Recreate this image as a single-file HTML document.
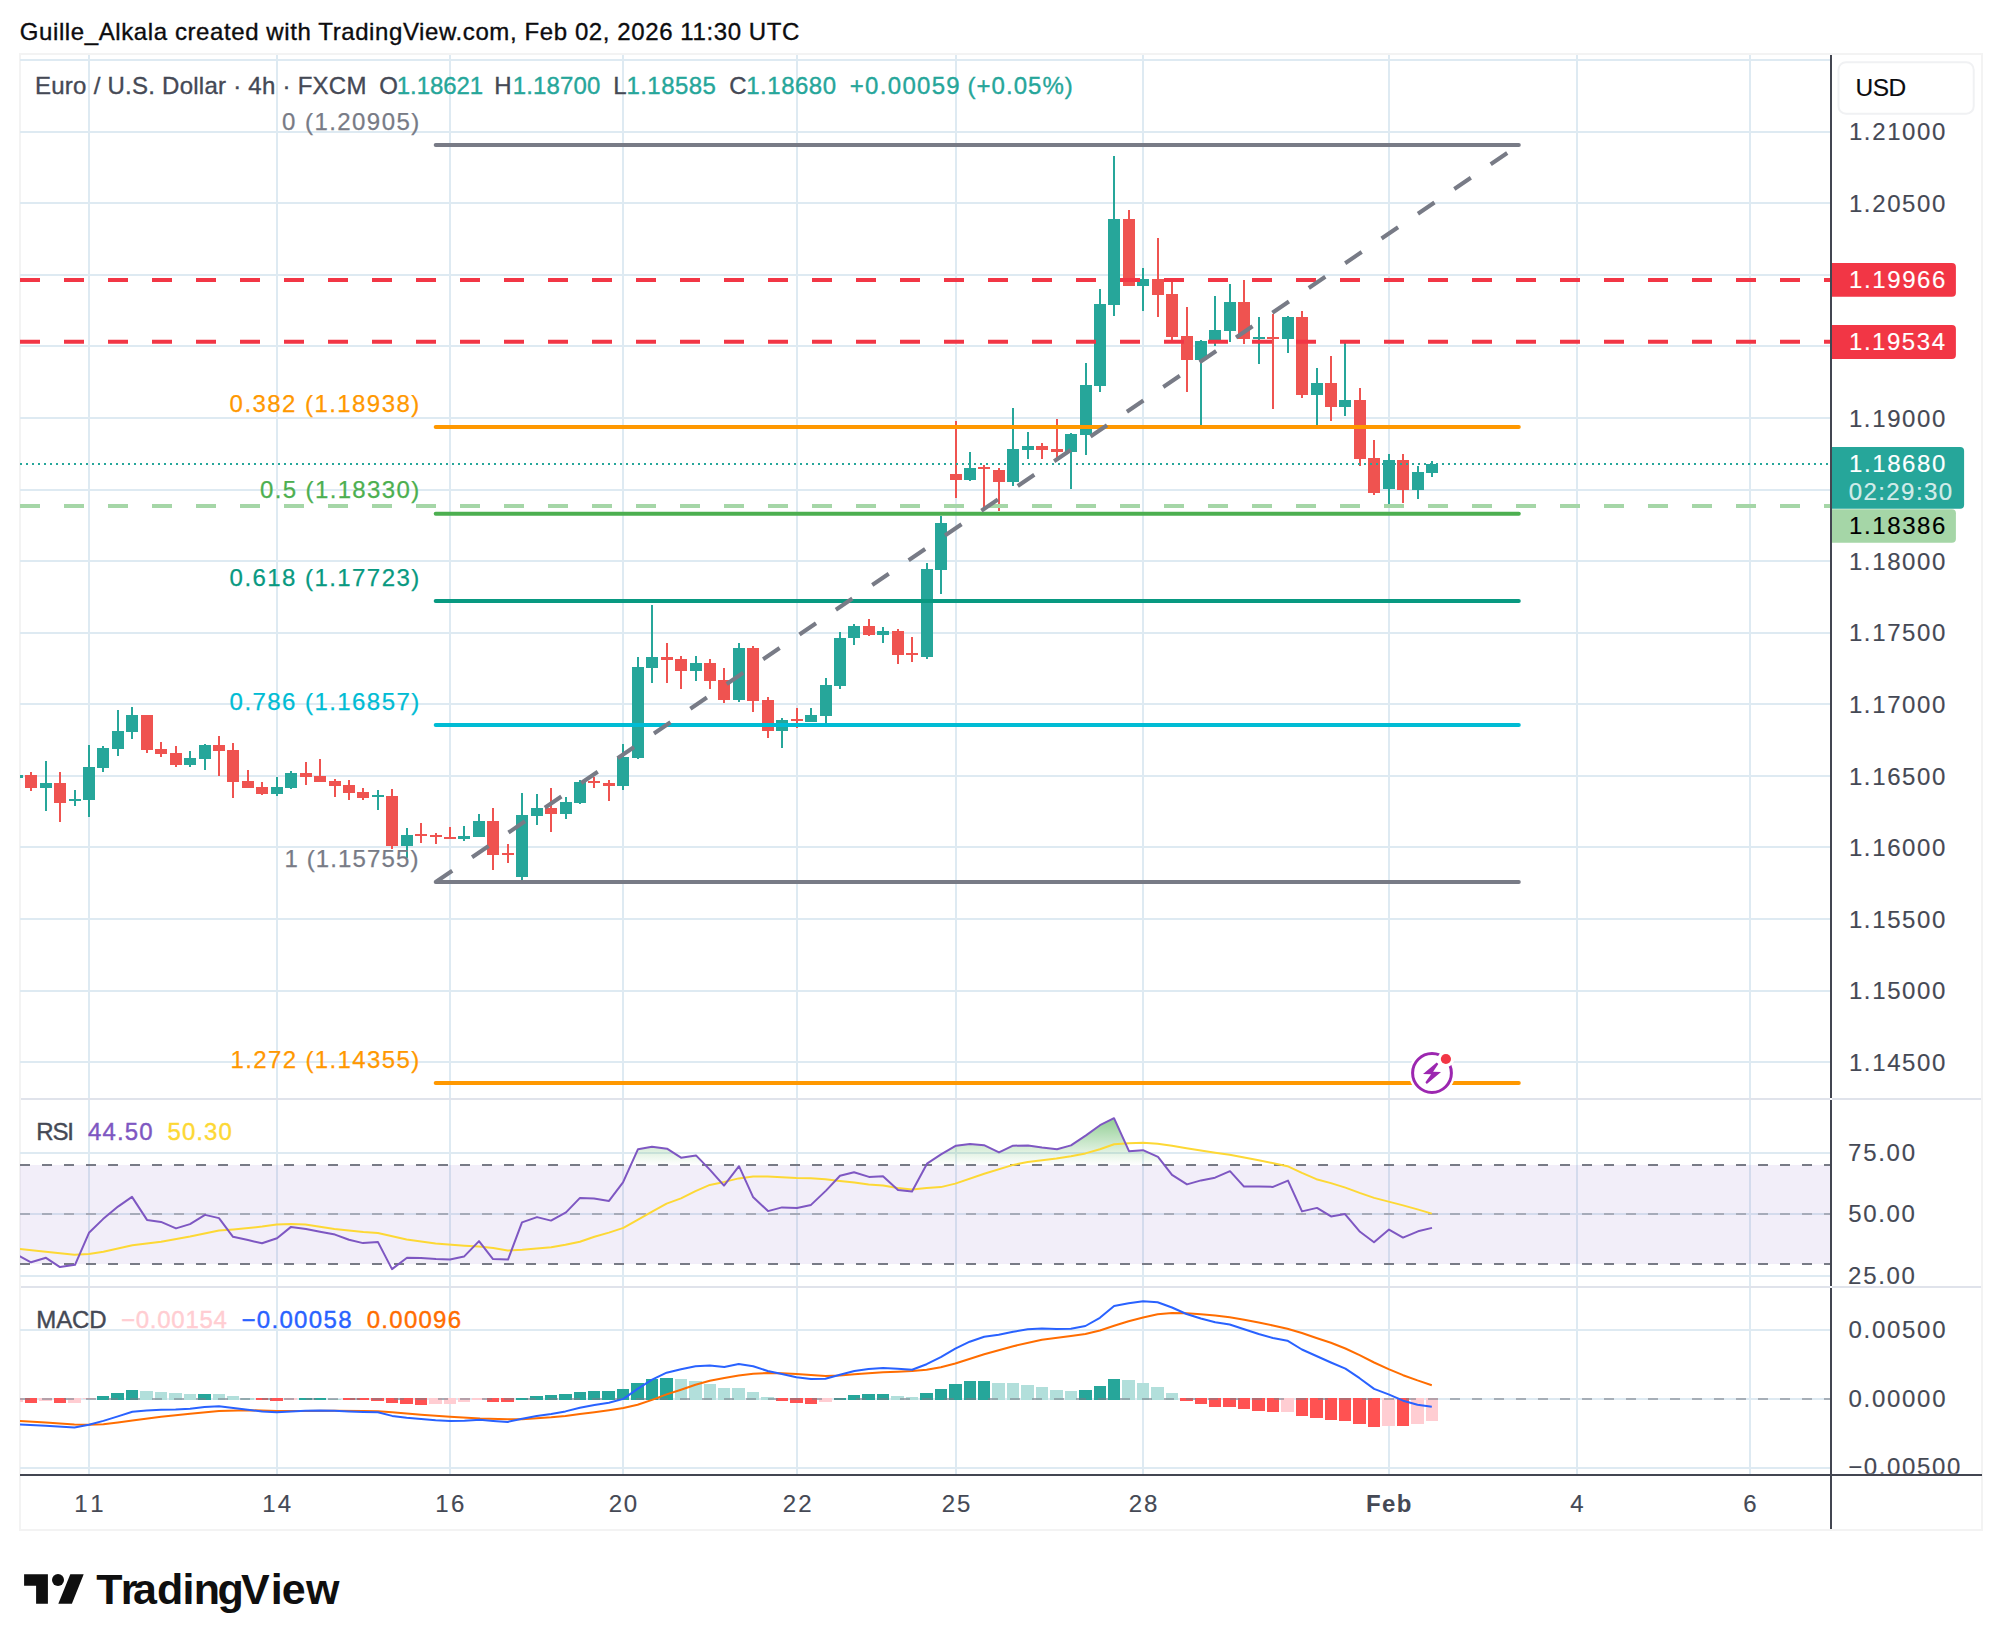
<!DOCTYPE html><html><head><meta charset="utf-8"><style>html,body{margin:0;padding:0;background:#fff}svg{display:block}</style></head><body>
<svg width="2002" height="1650" viewBox="0 0 2002 1650" font-family='"Liberation Sans", sans-serif'>
<defs><clipPath id="cp"><rect x="20" y="54" width="1810" height="1421"/></clipPath><clipPath id="cpm"><rect x="1832" y="1290" width="150" height="183.8"/></clipPath><linearGradient id="ob" gradientUnits="userSpaceOnUse" x1="0" y1="1100" x2="0" y2="1165"><stop offset="0" stop-color="#4caf50" stop-opacity="0.85"/><stop offset="1" stop-color="#4caf50" stop-opacity="0"/></linearGradient></defs>
<rect x="0.0" y="0.0" width="2002.0" height="1650.0" fill="#ffffff"/>
<text x="19.8" y="39.7" font-size="24" fill="#0c0c0e" stroke="#0c0c0e" stroke-width="0.35" textLength="779.6" lengthAdjust="spacing">Guille_Alkala created with TradingView.com, Feb 02, 2026 11:30 UTC</text>
<rect x="20" y="54" width="1962" height="1476" fill="none" stroke="#f3f3f3" stroke-width="2"/>
<g stroke="#deeaf2" stroke-width="2">
<line x1="89" y1="55" x2="89" y2="1474"/>
<line x1="277" y1="55" x2="277" y2="1474"/>
<line x1="450" y1="55" x2="450" y2="1474"/>
<line x1="623" y1="55" x2="623" y2="1474"/>
<line x1="797" y1="55" x2="797" y2="1474"/>
<line x1="956" y1="55" x2="956" y2="1474"/>
<line x1="1143" y1="55" x2="1143" y2="1474"/>
<line x1="1389" y1="55" x2="1389" y2="1474"/>
<line x1="1577" y1="55" x2="1577" y2="1474"/>
<line x1="1750" y1="55" x2="1750" y2="1474"/>
<line x1="20" y1="60" x2="1830" y2="60"/>
<line x1="20" y1="132" x2="1830" y2="132"/>
<line x1="20" y1="203" x2="1830" y2="203"/>
<line x1="20" y1="275" x2="1830" y2="275"/>
<line x1="20" y1="346" x2="1830" y2="346"/>
<line x1="20" y1="418" x2="1830" y2="418"/>
<line x1="20" y1="490" x2="1830" y2="490"/>
<line x1="20" y1="561" x2="1830" y2="561"/>
<line x1="20" y1="633" x2="1830" y2="633"/>
<line x1="20" y1="704" x2="1830" y2="704"/>
<line x1="20" y1="776" x2="1830" y2="776"/>
<line x1="20" y1="847" x2="1830" y2="847"/>
<line x1="20" y1="919" x2="1830" y2="919"/>
<line x1="20" y1="991" x2="1830" y2="991"/>
<line x1="20" y1="1062" x2="1830" y2="1062"/>
<line x1="20" y1="1153" x2="1830" y2="1153"/>
<line x1="20" y1="1214" x2="1830" y2="1214"/>
<line x1="20" y1="1276" x2="1830" y2="1276"/>
<line x1="20" y1="1330" x2="1830" y2="1330"/>
<line x1="20" y1="1399" x2="1830" y2="1399"/>
<line x1="20" y1="1468" x2="1830" y2="1468"/>
</g>
<g clip-path="url(#cp)" shape-rendering="crispEdges">
<rect x="16" y="775" width="2" height="3" fill="#26a69a"/><rect x="11" y="775" width="12" height="3" fill="#26a69a"/>
<rect x="30" y="772" width="2" height="19" fill="#ef5350"/><rect x="25" y="775" width="12" height="13" fill="#ef5350"/>
<rect x="45" y="761" width="2" height="50" fill="#26a69a"/><rect x="40" y="783" width="12" height="5" fill="#26a69a"/>
<rect x="59" y="772" width="2" height="50" fill="#ef5350"/><rect x="54" y="783" width="12" height="20" fill="#ef5350"/>
<rect x="74" y="790" width="2" height="16" fill="#26a69a"/><rect x="69" y="799" width="12" height="2" fill="#26a69a"/>
<rect x="88" y="745" width="2" height="72" fill="#26a69a"/><rect x="83" y="767" width="12" height="33" fill="#26a69a"/>
<rect x="102" y="746" width="2" height="26" fill="#26a69a"/><rect x="97" y="748" width="12" height="20" fill="#26a69a"/>
<rect x="117" y="710" width="2" height="46" fill="#26a69a"/><rect x="112" y="731" width="12" height="18" fill="#26a69a"/>
<rect x="131" y="707" width="2" height="32" fill="#26a69a"/><rect x="126" y="715" width="12" height="17" fill="#26a69a"/>
<rect x="146" y="715" width="2" height="38" fill="#ef5350"/><rect x="141" y="715" width="12" height="35" fill="#ef5350"/>
<rect x="160" y="742" width="2" height="15" fill="#ef5350"/><rect x="155" y="749" width="12" height="5" fill="#ef5350"/>
<rect x="175" y="746" width="2" height="21" fill="#ef5350"/><rect x="170" y="753" width="12" height="12" fill="#ef5350"/>
<rect x="189" y="751" width="2" height="16" fill="#26a69a"/><rect x="184" y="758" width="12" height="7" fill="#26a69a"/>
<rect x="204" y="744" width="2" height="26" fill="#26a69a"/><rect x="199" y="745" width="12" height="14" fill="#26a69a"/>
<rect x="218" y="736" width="2" height="40" fill="#ef5350"/><rect x="213" y="745" width="12" height="6" fill="#ef5350"/>
<rect x="232" y="743" width="2" height="55" fill="#ef5350"/><rect x="227" y="750" width="12" height="32" fill="#ef5350"/>
<rect x="247" y="770" width="2" height="18" fill="#ef5350"/><rect x="242" y="781" width="12" height="7" fill="#ef5350"/>
<rect x="261" y="782" width="2" height="13" fill="#ef5350"/><rect x="256" y="787" width="12" height="7" fill="#ef5350"/>
<rect x="276" y="777" width="2" height="19" fill="#26a69a"/><rect x="271" y="787" width="12" height="7" fill="#26a69a"/>
<rect x="290" y="771" width="2" height="18" fill="#26a69a"/><rect x="285" y="773" width="12" height="15" fill="#26a69a"/>
<rect x="305" y="762" width="2" height="23" fill="#ef5350"/><rect x="300" y="773" width="12" height="4" fill="#ef5350"/>
<rect x="319" y="759" width="2" height="23" fill="#ef5350"/><rect x="314" y="776" width="12" height="6" fill="#ef5350"/>
<rect x="334" y="779" width="2" height="18" fill="#ef5350"/><rect x="329" y="781" width="12" height="5" fill="#ef5350"/>
<rect x="348" y="780" width="2" height="20" fill="#ef5350"/><rect x="343" y="785" width="12" height="8" fill="#ef5350"/>
<rect x="362" y="788" width="2" height="12" fill="#ef5350"/><rect x="357" y="792" width="12" height="6" fill="#ef5350"/>
<rect x="377" y="790" width="2" height="20" fill="#26a69a"/><rect x="372" y="795" width="12" height="2" fill="#26a69a"/>
<rect x="391" y="789" width="2" height="60" fill="#ef5350"/><rect x="386" y="796" width="12" height="50" fill="#ef5350"/>
<rect x="406" y="828" width="2" height="30" fill="#26a69a"/><rect x="401" y="835" width="12" height="11" fill="#26a69a"/>
<rect x="420" y="823" width="2" height="20" fill="#ef5350"/><rect x="415" y="834" width="12" height="2" fill="#ef5350"/>
<rect x="435" y="833" width="2" height="11" fill="#ef5350"/><rect x="430" y="835" width="12" height="2" fill="#ef5350"/>
<rect x="449" y="827" width="2" height="12" fill="#ef5350"/><rect x="444" y="837" width="12" height="2" fill="#ef5350"/>
<rect x="463" y="826" width="2" height="15" fill="#26a69a"/><rect x="458" y="836" width="12" height="3" fill="#26a69a"/>
<rect x="478" y="814" width="2" height="23" fill="#26a69a"/><rect x="473" y="821" width="12" height="16" fill="#26a69a"/>
<rect x="492" y="808" width="2" height="62" fill="#ef5350"/><rect x="487" y="821" width="12" height="34" fill="#ef5350"/>
<rect x="507" y="844" width="2" height="19" fill="#ef5350"/><rect x="502" y="853" width="12" height="2" fill="#ef5350"/>
<rect x="521" y="793" width="2" height="87" fill="#26a69a"/><rect x="516" y="815" width="12" height="62" fill="#26a69a"/>
<rect x="536" y="794" width="2" height="31" fill="#26a69a"/><rect x="531" y="808" width="12" height="8" fill="#26a69a"/>
<rect x="550" y="788" width="2" height="44" fill="#ef5350"/><rect x="545" y="808" width="12" height="6" fill="#ef5350"/>
<rect x="565" y="797" width="2" height="22" fill="#26a69a"/><rect x="560" y="802" width="12" height="12" fill="#26a69a"/>
<rect x="579" y="780" width="2" height="24" fill="#26a69a"/><rect x="574" y="782" width="12" height="21" fill="#26a69a"/>
<rect x="593" y="777" width="2" height="11" fill="#ef5350"/><rect x="588" y="781" width="12" height="2" fill="#ef5350"/>
<rect x="608" y="780" width="2" height="21" fill="#ef5350"/><rect x="603" y="783" width="12" height="3" fill="#ef5350"/>
<rect x="622" y="744" width="2" height="46" fill="#26a69a"/><rect x="617" y="757" width="12" height="29" fill="#26a69a"/>
<rect x="637" y="657" width="2" height="102" fill="#26a69a"/><rect x="632" y="667" width="12" height="91" fill="#26a69a"/>
<rect x="651" y="605" width="2" height="78" fill="#26a69a"/><rect x="646" y="657" width="12" height="11" fill="#26a69a"/>
<rect x="666" y="643" width="2" height="40" fill="#ef5350"/><rect x="661" y="657" width="12" height="3" fill="#ef5350"/>
<rect x="680" y="656" width="2" height="33" fill="#ef5350"/><rect x="675" y="659" width="12" height="12" fill="#ef5350"/>
<rect x="695" y="656" width="2" height="25" fill="#26a69a"/><rect x="690" y="663" width="12" height="8" fill="#26a69a"/>
<rect x="709" y="659" width="2" height="30" fill="#ef5350"/><rect x="704" y="663" width="12" height="18" fill="#ef5350"/>
<rect x="723" y="668" width="2" height="35" fill="#ef5350"/><rect x="718" y="680" width="12" height="20" fill="#ef5350"/>
<rect x="738" y="643" width="2" height="59" fill="#26a69a"/><rect x="733" y="648" width="12" height="52" fill="#26a69a"/>
<rect x="752" y="646" width="2" height="66" fill="#ef5350"/><rect x="747" y="648" width="12" height="53" fill="#ef5350"/>
<rect x="767" y="697" width="2" height="41" fill="#ef5350"/><rect x="762" y="700" width="12" height="31" fill="#ef5350"/>
<rect x="781" y="718" width="2" height="30" fill="#26a69a"/><rect x="776" y="720" width="12" height="11" fill="#26a69a"/>
<rect x="796" y="708" width="2" height="20" fill="#ef5350"/><rect x="791" y="719" width="12" height="2" fill="#ef5350"/>
<rect x="810" y="708" width="2" height="14" fill="#26a69a"/><rect x="805" y="715" width="12" height="7" fill="#26a69a"/>
<rect x="825" y="678" width="2" height="45" fill="#26a69a"/><rect x="820" y="685" width="12" height="31" fill="#26a69a"/>
<rect x="839" y="632" width="2" height="57" fill="#26a69a"/><rect x="834" y="638" width="12" height="48" fill="#26a69a"/>
<rect x="853" y="624" width="2" height="21" fill="#26a69a"/><rect x="848" y="626" width="12" height="12" fill="#26a69a"/>
<rect x="868" y="619" width="2" height="17" fill="#ef5350"/><rect x="863" y="626" width="12" height="9" fill="#ef5350"/>
<rect x="882" y="627" width="2" height="16" fill="#26a69a"/><rect x="877" y="631" width="12" height="4" fill="#26a69a"/>
<rect x="897" y="629" width="2" height="35" fill="#ef5350"/><rect x="892" y="631" width="12" height="24" fill="#ef5350"/>
<rect x="911" y="637" width="2" height="25" fill="#ef5350"/><rect x="906" y="653" width="12" height="2" fill="#ef5350"/>
<rect x="926" y="563" width="2" height="96" fill="#26a69a"/><rect x="921" y="569" width="12" height="88" fill="#26a69a"/>
<rect x="940" y="516" width="2" height="78" fill="#26a69a"/><rect x="935" y="523" width="12" height="47" fill="#26a69a"/>
<rect x="955" y="421" width="2" height="77" fill="#ef5350"/><rect x="950" y="474" width="12" height="6" fill="#ef5350"/>
<rect x="969" y="452" width="2" height="29" fill="#26a69a"/><rect x="964" y="468" width="12" height="12" fill="#26a69a"/>
<rect x="983" y="465" width="2" height="45" fill="#ef5350"/><rect x="978" y="467" width="12" height="2" fill="#ef5350"/>
<rect x="998" y="468" width="2" height="43" fill="#ef5350"/><rect x="993" y="470" width="12" height="12" fill="#ef5350"/>
<rect x="1012" y="408" width="2" height="78" fill="#26a69a"/><rect x="1007" y="449" width="12" height="33" fill="#26a69a"/>
<rect x="1027" y="432" width="2" height="27" fill="#26a69a"/><rect x="1022" y="446" width="12" height="4" fill="#26a69a"/>
<rect x="1041" y="443" width="2" height="16" fill="#ef5350"/><rect x="1036" y="446" width="12" height="4" fill="#ef5350"/>
<rect x="1056" y="419" width="2" height="40" fill="#ef5350"/><rect x="1051" y="449" width="12" height="3" fill="#ef5350"/>
<rect x="1070" y="433" width="2" height="56" fill="#26a69a"/><rect x="1065" y="434" width="12" height="18" fill="#26a69a"/>
<rect x="1085" y="363" width="2" height="92" fill="#26a69a"/><rect x="1080" y="385" width="12" height="50" fill="#26a69a"/>
<rect x="1099" y="289" width="2" height="103" fill="#26a69a"/><rect x="1094" y="304" width="12" height="82" fill="#26a69a"/>
<rect x="1113" y="156" width="2" height="160" fill="#26a69a"/><rect x="1108" y="219" width="12" height="86" fill="#26a69a"/>
<rect x="1128" y="210" width="2" height="76" fill="#ef5350"/><rect x="1123" y="219" width="12" height="67" fill="#ef5350"/>
<rect x="1142" y="268" width="2" height="43" fill="#26a69a"/><rect x="1137" y="279" width="12" height="7" fill="#26a69a"/>
<rect x="1157" y="238" width="2" height="79" fill="#ef5350"/><rect x="1152" y="279" width="12" height="16" fill="#ef5350"/>
<rect x="1171" y="281" width="2" height="59" fill="#ef5350"/><rect x="1166" y="294" width="12" height="43" fill="#ef5350"/>
<rect x="1186" y="307" width="2" height="85" fill="#ef5350"/><rect x="1181" y="336" width="12" height="24" fill="#ef5350"/>
<rect x="1200" y="340" width="2" height="86" fill="#26a69a"/><rect x="1195" y="341" width="12" height="19" fill="#26a69a"/>
<rect x="1214" y="296" width="2" height="50" fill="#26a69a"/><rect x="1209" y="330" width="12" height="11" fill="#26a69a"/>
<rect x="1229" y="284" width="2" height="58" fill="#26a69a"/><rect x="1224" y="302" width="12" height="29" fill="#26a69a"/>
<rect x="1243" y="280" width="2" height="64" fill="#ef5350"/><rect x="1238" y="302" width="12" height="37" fill="#ef5350"/>
<rect x="1258" y="317" width="2" height="47" fill="#26a69a"/><rect x="1253" y="337" width="12" height="2" fill="#26a69a"/>
<rect x="1272" y="314" width="2" height="95" fill="#ef5350"/><rect x="1267" y="337" width="12" height="2" fill="#ef5350"/>
<rect x="1287" y="316" width="2" height="37" fill="#26a69a"/><rect x="1282" y="317" width="12" height="22" fill="#26a69a"/>
<rect x="1301" y="311" width="2" height="87" fill="#ef5350"/><rect x="1296" y="317" width="12" height="78" fill="#ef5350"/>
<rect x="1316" y="368" width="2" height="58" fill="#26a69a"/><rect x="1311" y="383" width="12" height="12" fill="#26a69a"/>
<rect x="1330" y="356" width="2" height="65" fill="#ef5350"/><rect x="1325" y="383" width="12" height="24" fill="#ef5350"/>
<rect x="1344" y="343" width="2" height="73" fill="#26a69a"/><rect x="1339" y="400" width="12" height="7" fill="#26a69a"/>
<rect x="1359" y="388" width="2" height="78" fill="#ef5350"/><rect x="1354" y="400" width="12" height="59" fill="#ef5350"/>
<rect x="1373" y="440" width="2" height="55" fill="#ef5350"/><rect x="1368" y="458" width="12" height="35" fill="#ef5350"/>
<rect x="1388" y="454" width="2" height="51" fill="#26a69a"/><rect x="1383" y="460" width="12" height="29" fill="#26a69a"/>
<rect x="1402" y="454" width="2" height="49" fill="#ef5350"/><rect x="1397" y="460" width="12" height="30" fill="#ef5350"/>
<rect x="1417" y="466" width="2" height="33" fill="#26a69a"/><rect x="1412" y="472" width="12" height="18" fill="#26a69a"/>
<rect x="1431" y="461" width="2" height="16" fill="#26a69a"/><rect x="1426" y="464" width="12" height="9" fill="#26a69a"/>
</g>
<line x1="20.0" y1="279.9" x2="1830.0" y2="279.9" stroke="#f23645" stroke-width="4" stroke-dasharray="20 24"/>
<line x1="20.0" y1="341.8" x2="1830.0" y2="341.8" stroke="#f23645" stroke-width="4" stroke-dasharray="20 24"/>
<line x1="20.0" y1="506.0" x2="1830.0" y2="506.0" stroke="#a5d6a7" stroke-width="4" stroke-dasharray="20 24"/>
<line x1="20.0" y1="463.9" x2="1830.0" y2="463.9" stroke="#26a69a" stroke-width="2" stroke-dasharray="2 4"/>
<line x1="435.7" y1="145.1" x2="1518.8" y2="145.1" stroke="#787b86" stroke-width="4" stroke-linecap="round"/>
<text x="282.1" y="129.7" font-size="24" fill="#787b86" stroke="#787b86" stroke-width="0.25" textLength="137.1" lengthAdjust="spacing">0 (1.20905)</text>
<line x1="435.7" y1="427.0" x2="1518.8" y2="427.0" stroke="#ff9800" stroke-width="4" stroke-linecap="round"/>
<text x="229.6" y="411.6" font-size="24" fill="#ff9800" stroke="#ff9800" stroke-width="0.25" textLength="189.6" lengthAdjust="spacing">0.382 (1.18938)</text>
<line x1="435.7" y1="513.8" x2="1518.8" y2="513.8" stroke="#4caf50" stroke-width="4" stroke-linecap="round"/>
<text x="260.1" y="498.4" font-size="24" fill="#4caf50" stroke="#4caf50" stroke-width="0.25" textLength="159.1" lengthAdjust="spacing">0.5 (1.18330)</text>
<line x1="435.7" y1="601.0" x2="1518.8" y2="601.0" stroke="#089981" stroke-width="4" stroke-linecap="round"/>
<text x="229.6" y="585.6" font-size="24" fill="#089981" stroke="#089981" stroke-width="0.25" textLength="189.6" lengthAdjust="spacing">0.618 (1.17723)</text>
<line x1="435.7" y1="725.0" x2="1518.8" y2="725.0" stroke="#00bcd4" stroke-width="4" stroke-linecap="round"/>
<text x="229.6" y="709.6" font-size="24" fill="#00bcd4" stroke="#00bcd4" stroke-width="0.25" textLength="189.6" lengthAdjust="spacing">0.786 (1.16857)</text>
<line x1="435.7" y1="882.0" x2="1518.8" y2="882.0" stroke="#787b86" stroke-width="4" stroke-linecap="round"/>
<text x="284.4" y="866.6" font-size="24" fill="#787b86" stroke="#787b86" stroke-width="0.25" textLength="134.1" lengthAdjust="spacing">1 (1.15755)</text>
<line x1="435.7" y1="1083.0" x2="1518.8" y2="1083.0" stroke="#ff9800" stroke-width="4" stroke-linecap="round"/>
<text x="230.5" y="1067.6" font-size="24" fill="#ff9800" stroke="#ff9800" stroke-width="0.25" textLength="188.7" lengthAdjust="spacing">1.272 (1.14355)</text>
<line x1="435.7" y1="882.0" x2="1518.8" y2="145.1" stroke="#787b86" stroke-width="4" stroke-dasharray="20 24"/>
<g><circle cx="1432" cy="1073" r="23.2" fill="#fff"/><circle cx="1432" cy="1073" r="19.4" fill="none" stroke="#9c27b0" stroke-width="3"/><polygon points="1436.7,1062.4 1438.3,1064 1433.1,1071.8 1441,1072.1 1426.8,1084 1425.4,1082.2 1431.1,1074.2 1423,1073.9" fill="#9c27b0"/><circle cx="1445.9" cy="1059" r="8.3" fill="#fff"/><circle cx="1445.9" cy="1059" r="5.1" fill="#f23645"/></g>
<rect x="20.0" y="1165.0" width="1810.0" height="99.0" fill="#7e57c2" fill-opacity="0.1"/>
<line x1="20.0" y1="1165.0" x2="1830.0" y2="1165.0" stroke="#787b86" stroke-width="2" stroke-dasharray="10 12" stroke-opacity="1"/>
<line x1="20.0" y1="1214.0" x2="1830.0" y2="1214.0" stroke="#787b86" stroke-width="2" stroke-dasharray="10 12" stroke-opacity="0.5"/>
<line x1="20.0" y1="1264.0" x2="1830.0" y2="1264.0" stroke="#787b86" stroke-width="2" stroke-dasharray="10 12" stroke-opacity="1"/>
<polygon points="630.9,1165.0 638.0,1149.2 652.0,1146.7 667.0,1148.7 681.0,1157.7 696.0,1155.4 705.3,1165.0" fill="url(#ob)"/>
<polygon points="926.3,1165.0 927.0,1163.7 941.0,1154.4 956.0,1145.7 970.0,1143.9 984.0,1145.2 999.0,1152.4 1013.0,1145.7 1028.0,1145.4 1042.0,1147.4 1057.0,1149.2 1071.0,1145.4 1086.0,1135.4 1100.0,1125.2 1114.0,1118.2 1129.0,1151.2 1143.0,1150.2 1158.0,1156.9 1164.3,1165.0" fill="url(#ob)"/>
<polyline clip-path="url(#cp)" points="16.7,1248.6 45.7,1251.8 74.4,1254.8 88.9,1254.1 103.4,1251.8 132.4,1245.3 161.1,1241.8 190.1,1236.6 219.0,1230.6 233.3,1229.4 262.2,1226.6 276.7,1224.4 291.2,1223.9 305.4,1224.4 334.4,1229.1 363.4,1232.1 377.9,1233.1 406.6,1239.6 435.6,1243.6 464.5,1245.8 478.8,1246.6 493.2,1248.1 507.7,1250.6 522.2,1249.8 536.7,1248.6 551.2,1247.3 565.4,1244.8 579.9,1241.8 594.4,1236.8 608.9,1232.6 623.4,1227.9 637.6,1219.9 652.1,1211.6 666.6,1203.6 681.0,1198.4 695.5,1191.1 709.8,1184.9 724.3,1181.9 738.7,1178.4 753.2,1176.4 767.7,1176.4 781.9,1177.2 796.4,1177.9 810.9,1178.2 825.4,1179.2 839.9,1180.9 854.4,1182.6 868.6,1184.4 883.1,1185.6 897.6,1187.9 912.1,1189.4 926.6,1188.1 940.8,1187.1 955.3,1183.6 984.2,1173.7 1013.2,1164.9 1027.7,1161.9 1056.4,1158.4 1070.9,1156.2 1085.4,1153.4 1099.9,1149.2 1114.1,1144.2 1128.6,1143.2 1143.1,1142.7 1157.6,1143.7 1172.0,1145.7 1186.5,1148.2 1215.2,1152.7 1229.7,1154.7 1258.7,1160.2 1287.4,1166.2 1301.9,1172.9 1316.4,1179.2 1330.9,1183.1 1345.4,1187.6 1359.6,1192.9 1374.1,1197.9 1388.6,1201.6 1403.1,1205.4 1417.5,1209.4 1431.8,1213.6" fill="none" stroke="#fdd835" stroke-width="2" stroke-linejoin="round"/>
<polyline clip-path="url(#cp)" points="17.0,1254.8 31.0,1262.3 46.0,1257.8 60.0,1267.1 75.0,1264.8 89.0,1232.8 103.0,1219.1 118.0,1206.6 132.0,1196.9 147.0,1219.9 161.0,1221.9 176.0,1228.4 190.0,1224.1 205.0,1214.9 219.0,1218.1 233.0,1236.8 248.0,1240.1 262.0,1243.3 277.0,1238.3 291.0,1226.9 306.0,1228.9 320.0,1231.8 335.0,1234.6 349.0,1239.8 363.0,1243.1 378.0,1242.1 392.0,1269.1 407.0,1257.8 421.0,1258.1 436.0,1259.1 450.0,1259.6 464.0,1256.6 479.0,1241.1 493.0,1259.1 508.0,1259.6 522.0,1222.4 537.0,1217.1 551.0,1220.6 566.0,1212.4 580.0,1197.9 594.0,1198.4 609.0,1200.9 623.0,1182.4 638.0,1149.2 652.0,1146.7 667.0,1148.7 681.0,1157.7 696.0,1155.4 710.0,1169.9 724.0,1185.6 739.0,1166.2 753.0,1196.9 768.0,1211.1 782.0,1207.4 797.0,1207.9 811.0,1204.9 826.0,1190.6 840.0,1175.7 854.0,1172.2 869.0,1176.9 883.0,1176.2 898.0,1189.9 912.0,1191.4 927.0,1163.7 941.0,1154.4 956.0,1145.7 970.0,1143.9 984.0,1145.2 999.0,1152.4 1013.0,1145.7 1028.0,1145.4 1042.0,1147.4 1057.0,1149.2 1071.0,1145.4 1086.0,1135.4 1100.0,1125.2 1114.0,1118.2 1129.0,1151.2 1143.0,1150.2 1158.0,1156.9 1172.0,1174.9 1187.0,1184.4 1201.0,1180.4 1215.0,1177.7 1230.0,1171.2 1244.0,1186.6 1259.0,1186.4 1273.0,1186.9 1288.0,1180.6 1302.0,1211.4 1317.0,1207.9 1331.0,1216.4 1345.0,1214.1 1360.0,1231.8 1374.0,1242.3 1389.0,1229.6 1403.0,1237.6 1418.0,1231.3 1432.0,1227.9" fill="none" stroke="#7e57c2" stroke-width="2" stroke-linejoin="round"/>
<text x="36.3" y="1140.0" font-size="24" fill="#454955" stroke="#454955" stroke-width="0.4" textLength="37.5" lengthAdjust="spacing">RSI</text>
<text x="87.9" y="1140.0" font-size="24" fill="#7e57c2" stroke="#7e57c2" stroke-width="0.4" textLength="64.8" lengthAdjust="spacing">44.50</text>
<text x="167.5" y="1140.0" font-size="24" fill="#fdd835" stroke="#fdd835" stroke-width="0.4" textLength="64.3" lengthAdjust="spacing">50.30</text>
<g clip-path="url(#cp)" shape-rendering="crispEdges">
<rect x="10" y="1398" width="13" height="4" fill="#ffcdd2"/>
<rect x="25" y="1398" width="12" height="5" fill="#ff5252"/>
<rect x="39" y="1398" width="13" height="3" fill="#ffcdd2"/>
<rect x="54" y="1398" width="12" height="5" fill="#ff5252"/>
<rect x="68" y="1398" width="13" height="5" fill="#ffcdd2"/>
<rect x="83" y="1398" width="12" height="1" fill="#ffcdd2"/>
<rect x="97" y="1396" width="12" height="4" fill="#26a69a"/>
<rect x="111" y="1393" width="13" height="7" fill="#26a69a"/>
<rect x="126" y="1390" width="12" height="10" fill="#26a69a"/>
<rect x="140" y="1391" width="13" height="9" fill="#b2dfdb"/>
<rect x="155" y="1392" width="12" height="8" fill="#b2dfdb"/>
<rect x="169" y="1393" width="13" height="7" fill="#b2dfdb"/>
<rect x="184" y="1394" width="12" height="6" fill="#b2dfdb"/>
<rect x="198" y="1394" width="13" height="6" fill="#26a69a"/>
<rect x="213" y="1394" width="12" height="6" fill="#b2dfdb"/>
<rect x="227" y="1396" width="12" height="4" fill="#b2dfdb"/>
<rect x="241" y="1398" width="13" height="2" fill="#b2dfdb"/>
<rect x="256" y="1398" width="12" height="2" fill="#ff5252"/>
<rect x="270" y="1398" width="13" height="3" fill="#ff5252"/>
<rect x="285" y="1398" width="12" height="2" fill="#ffcdd2"/>
<rect x="299" y="1398" width="13" height="2" fill="#26a69a"/>
<rect x="314" y="1398" width="12" height="2" fill="#26a69a"/>
<rect x="328" y="1399" width="13" height="1" fill="#b2dfdb"/>
<rect x="343" y="1398" width="12" height="2" fill="#ff5252"/>
<rect x="357" y="1398" width="12" height="2" fill="#ff5252"/>
<rect x="371" y="1398" width="13" height="3" fill="#ff5252"/>
<rect x="386" y="1398" width="12" height="5" fill="#ff5252"/>
<rect x="400" y="1398" width="13" height="6" fill="#ff5252"/>
<rect x="415" y="1398" width="12" height="7" fill="#ff5252"/>
<rect x="429" y="1398" width="13" height="6" fill="#ffcdd2"/>
<rect x="444" y="1398" width="12" height="6" fill="#ffcdd2"/>
<rect x="458" y="1398" width="12" height="4" fill="#ffcdd2"/>
<rect x="472" y="1398" width="13" height="2" fill="#ffcdd2"/>
<rect x="487" y="1398" width="12" height="4" fill="#ff5252"/>
<rect x="501" y="1398" width="13" height="4" fill="#ff5252"/>
<rect x="516" y="1398" width="12" height="2" fill="#26a69a"/>
<rect x="530" y="1396" width="13" height="4" fill="#26a69a"/>
<rect x="545" y="1395" width="12" height="5" fill="#26a69a"/>
<rect x="559" y="1394" width="13" height="6" fill="#26a69a"/>
<rect x="574" y="1392" width="12" height="8" fill="#26a69a"/>
<rect x="588" y="1391" width="12" height="9" fill="#26a69a"/>
<rect x="602" y="1391" width="13" height="9" fill="#26a69a"/>
<rect x="617" y="1389" width="12" height="11" fill="#26a69a"/>
<rect x="631" y="1383" width="13" height="17" fill="#26a69a"/>
<rect x="646" y="1379" width="12" height="21" fill="#26a69a"/>
<rect x="660" y="1378" width="13" height="22" fill="#26a69a"/>
<rect x="675" y="1379" width="12" height="21" fill="#b2dfdb"/>
<rect x="689" y="1381" width="13" height="19" fill="#b2dfdb"/>
<rect x="704" y="1384" width="12" height="16" fill="#b2dfdb"/>
<rect x="718" y="1388" width="12" height="12" fill="#b2dfdb"/>
<rect x="732" y="1388" width="13" height="12" fill="#b2dfdb"/>
<rect x="747" y="1392" width="12" height="8" fill="#b2dfdb"/>
<rect x="761" y="1397" width="13" height="3" fill="#b2dfdb"/>
<rect x="776" y="1398" width="12" height="3" fill="#ff5252"/>
<rect x="790" y="1398" width="13" height="5" fill="#ff5252"/>
<rect x="805" y="1398" width="12" height="6" fill="#ff5252"/>
<rect x="819" y="1398" width="13" height="4" fill="#ffcdd2"/>
<rect x="834" y="1398" width="12" height="2" fill="#26a69a"/>
<rect x="848" y="1395" width="12" height="5" fill="#26a69a"/>
<rect x="862" y="1394" width="13" height="6" fill="#26a69a"/>
<rect x="877" y="1394" width="12" height="6" fill="#26a69a"/>
<rect x="891" y="1396" width="13" height="4" fill="#b2dfdb"/>
<rect x="906" y="1397" width="12" height="3" fill="#b2dfdb"/>
<rect x="920" y="1393" width="13" height="7" fill="#26a69a"/>
<rect x="935" y="1389" width="12" height="11" fill="#26a69a"/>
<rect x="949" y="1384" width="13" height="16" fill="#26a69a"/>
<rect x="964" y="1381" width="12" height="19" fill="#26a69a"/>
<rect x="978" y="1381" width="12" height="19" fill="#26a69a"/>
<rect x="992" y="1383" width="13" height="17" fill="#b2dfdb"/>
<rect x="1007" y="1383" width="12" height="17" fill="#b2dfdb"/>
<rect x="1021" y="1385" width="13" height="15" fill="#b2dfdb"/>
<rect x="1036" y="1387" width="12" height="13" fill="#b2dfdb"/>
<rect x="1050" y="1390" width="13" height="10" fill="#b2dfdb"/>
<rect x="1065" y="1391" width="12" height="9" fill="#b2dfdb"/>
<rect x="1079" y="1390" width="13" height="10" fill="#26a69a"/>
<rect x="1094" y="1386" width="12" height="14" fill="#26a69a"/>
<rect x="1108" y="1379" width="12" height="21" fill="#26a69a"/>
<rect x="1122" y="1380" width="13" height="20" fill="#b2dfdb"/>
<rect x="1137" y="1383" width="12" height="17" fill="#b2dfdb"/>
<rect x="1151" y="1387" width="13" height="13" fill="#b2dfdb"/>
<rect x="1166" y="1393" width="12" height="7" fill="#b2dfdb"/>
<rect x="1180" y="1398" width="13" height="3" fill="#ff5252"/>
<rect x="1195" y="1398" width="12" height="6" fill="#ff5252"/>
<rect x="1209" y="1398" width="12" height="9" fill="#ff5252"/>
<rect x="1223" y="1398" width="13" height="9" fill="#ff5252"/>
<rect x="1238" y="1398" width="12" height="11" fill="#ff5252"/>
<rect x="1252" y="1398" width="13" height="13" fill="#ff5252"/>
<rect x="1267" y="1398" width="12" height="14" fill="#ff5252"/>
<rect x="1281" y="1398" width="13" height="14" fill="#ffcdd2"/>
<rect x="1296" y="1398" width="12" height="18" fill="#ff5252"/>
<rect x="1310" y="1398" width="13" height="20" fill="#ff5252"/>
<rect x="1325" y="1398" width="12" height="22" fill="#ff5252"/>
<rect x="1339" y="1398" width="12" height="23" fill="#ff5252"/>
<rect x="1353" y="1398" width="13" height="26" fill="#ff5252"/>
<rect x="1368" y="1398" width="12" height="29" fill="#ff5252"/>
<rect x="1382" y="1398" width="13" height="28" fill="#ffcdd2"/>
<rect x="1397" y="1398" width="12" height="28" fill="#ff5252"/>
<rect x="1411" y="1398" width="13" height="26" fill="#ffcdd2"/>
<rect x="1426" y="1398" width="12" height="23" fill="#ffcdd2"/>
</g>
<line x1="20.0" y1="1399.0" x2="1830.0" y2="1399.0" stroke="#787b86" stroke-width="2" stroke-dasharray="10 12" stroke-opacity="0.55"/>
<polyline clip-path="url(#cp)" points="16.7,1420.7 45.7,1422.4 74.4,1424.4 88.9,1424.7 103.4,1424.2 117.9,1422.4 132.4,1420.4 161.1,1416.7 190.1,1413.7 219.0,1410.9 247.8,1410.2 276.7,1410.9 305.4,1410.9 334.4,1410.7 363.4,1410.9 377.9,1411.2 392.1,1412.2 421.1,1414.7 450.0,1416.7 480.0,1418.4 507.7,1419.2 522.2,1419.2 536.7,1418.2 551.2,1417.2 565.4,1415.9 579.9,1413.9 594.4,1412.2 608.9,1410.2 623.4,1407.9 637.6,1404.7 652.1,1399.9 666.6,1394.4 681.0,1389.7 695.5,1384.7 709.8,1380.7 724.3,1378.0 738.7,1375.5 753.2,1373.7 767.7,1373.0 781.9,1373.2 796.4,1374.0 810.9,1375.0 825.4,1376.0 839.9,1375.5 854.4,1374.2 868.6,1373.2 883.1,1372.2 897.6,1371.7 912.1,1371.0 926.6,1369.7 940.8,1367.2 955.3,1363.5 984.2,1354.2 1013.2,1346.2 1041.9,1339.7 1070.9,1336.0 1085.4,1334.0 1099.9,1330.5 1114.1,1325.8 1128.6,1321.3 1143.1,1317.5 1157.6,1314.3 1172.0,1313.0 1186.5,1313.3 1200.8,1314.3 1215.2,1315.5 1229.7,1317.3 1244.2,1319.8 1258.7,1322.5 1272.9,1325.5 1287.4,1328.8 1301.9,1333.0 1316.4,1338.0 1330.9,1342.7 1345.4,1348.5 1359.6,1355.2 1374.1,1362.5 1388.6,1369.2 1403.1,1375.2 1417.5,1380.4 1431.8,1385.2" fill="none" stroke="#ff6d00" stroke-width="2" stroke-linejoin="round"/>
<polyline clip-path="url(#cp)" points="16.7,1424.4 45.7,1425.7 74.4,1427.4 88.9,1424.7 103.4,1420.9 117.9,1416.4 132.4,1411.7 146.6,1410.4 161.1,1409.7 175.6,1409.4 190.1,1408.7 204.5,1406.9 219.0,1406.2 233.3,1407.9 247.8,1409.7 262.2,1411.4 276.7,1412.2 291.2,1411.4 305.4,1410.7 319.9,1410.4 334.4,1410.7 348.9,1411.4 363.4,1411.9 377.9,1412.2 392.1,1415.9 406.6,1417.7 421.1,1418.9 435.6,1420.2 450.0,1420.9 464.5,1420.7 480.0,1419.7 493.2,1420.9 507.7,1421.9 522.2,1418.7 536.7,1415.9 551.2,1413.9 565.4,1411.4 579.9,1407.7 594.4,1404.9 608.9,1402.7 623.4,1398.9 637.6,1388.9 652.1,1379.7 666.6,1372.7 681.0,1369.2 695.5,1366.2 709.8,1365.5 724.3,1367.0 738.7,1364.0 753.2,1366.2 767.7,1371.0 781.9,1374.0 796.4,1377.2 810.9,1379.0 825.4,1378.7 839.9,1374.7 854.4,1371.0 868.6,1369.0 883.1,1368.0 897.6,1368.7 912.1,1369.7 926.6,1364.2 940.8,1357.2 955.3,1348.7 969.7,1341.7 984.2,1336.7 998.7,1334.7 1013.2,1331.7 1027.7,1329.3 1041.9,1328.5 1056.4,1329.0 1070.9,1328.8 1085.4,1326.0 1099.9,1317.8 1114.1,1306.0 1128.6,1303.3 1143.1,1301.3 1157.6,1302.3 1172.0,1307.5 1186.5,1314.0 1200.8,1318.5 1215.2,1322.3 1229.7,1324.5 1244.2,1329.3 1258.7,1334.0 1272.9,1338.0 1287.4,1340.7 1301.9,1349.5 1316.4,1356.0 1330.9,1362.5 1345.4,1368.7 1359.6,1378.2 1374.1,1388.9 1388.6,1394.4 1403.1,1400.7 1417.5,1404.7 1431.8,1406.7" fill="none" stroke="#2962ff" stroke-width="2" stroke-linejoin="round"/>
<text x="36.3" y="1328.0" font-size="24" fill="#454955" stroke="#454955" stroke-width="0.4" textLength="70.4" lengthAdjust="spacing">MACD</text>
<text x="121.0" y="1328.0" font-size="24" fill="#ffcdd2" stroke="#ffcdd2" stroke-width="0.4" textLength="105.9" lengthAdjust="spacing">−0.00154</text>
<text x="241.4" y="1328.0" font-size="24" fill="#2962ff" stroke="#2962ff" stroke-width="0.4" textLength="110.1" lengthAdjust="spacing">−0.00058</text>
<text x="366.7" y="1328.0" font-size="24" fill="#ff6d00" stroke="#ff6d00" stroke-width="0.4" textLength="94.4" lengthAdjust="spacing">0.00096</text>
<text x="35.0" y="93.7" font-size="24" fill="#454955" stroke="#454955" stroke-width="0.35" textLength="331.4" lengthAdjust="spacing">Euro / U.S. Dollar · 4h · FXCM</text>
<text x="379.3" y="93.7" font-size="24" fill="#454955" stroke="#454955" stroke-width="0.35">O</text>
<text x="396.8" y="93.7" font-size="24" fill="#26a69a" stroke="#26a69a" stroke-width="0.35" textLength="86.3" lengthAdjust="spacing">1.18621</text>
<text x="494.3" y="93.7" font-size="24" fill="#454955" stroke="#454955" stroke-width="0.35">H</text>
<text x="512.7" y="93.7" font-size="24" fill="#26a69a" stroke="#26a69a" stroke-width="0.35" textLength="87.6" lengthAdjust="spacing">1.18700</text>
<text x="613.2" y="93.7" font-size="24" fill="#454955" stroke="#454955" stroke-width="0.35">L</text>
<text x="626.5" y="93.7" font-size="24" fill="#26a69a" stroke="#26a69a" stroke-width="0.35" textLength="89.3" lengthAdjust="spacing">1.18585</text>
<text x="729.3" y="93.7" font-size="24" fill="#454955" stroke="#454955" stroke-width="0.35">C</text>
<text x="746.2" y="93.7" font-size="24" fill="#26a69a" stroke="#26a69a" stroke-width="0.35" textLength="89.9" lengthAdjust="spacing">1.18680</text>
<text x="849.8" y="93.7" font-size="24" fill="#26a69a" stroke="#26a69a" stroke-width="0.35" textLength="109.9" lengthAdjust="spacing">+0.00059</text>
<text x="967.5" y="93.7" font-size="24" fill="#26a69a" stroke="#26a69a" stroke-width="0.35" textLength="105.3" lengthAdjust="spacing">(+0.05%)</text>
<line x1="1831.0" y1="55.0" x2="1831.0" y2="1529.0" stroke="#434651" stroke-width="2"/>
<line x1="20.0" y1="1475.0" x2="1982.0" y2="1475.0" stroke="#434651" stroke-width="2"/>
<line x1="21.0" y1="1099.0" x2="1981.0" y2="1099.0" stroke="#e0e3eb" stroke-width="2"/>
<line x1="21.0" y1="1287.0" x2="1981.0" y2="1287.0" stroke="#e0e3eb" stroke-width="2"/>
<rect x="1830.0" y="1098.0" width="2.0" height="2.0" fill="#f8f9fd"/>
<rect x="1830.0" y="1286.0" width="2.0" height="2.0" fill="#f8f9fd"/>
<text x="1848.9" y="140.3" font-size="24" fill="#454955" stroke="#454955" stroke-width="0.15" textLength="96.5" lengthAdjust="spacing">1.21000</text>
<text x="1848.9" y="211.9" font-size="24" fill="#454955" stroke="#454955" stroke-width="0.15" textLength="96.5" lengthAdjust="spacing">1.20500</text>
<text x="1848.9" y="426.6" font-size="24" fill="#454955" stroke="#454955" stroke-width="0.15" textLength="96.5" lengthAdjust="spacing">1.19000</text>
<text x="1848.9" y="569.8" font-size="24" fill="#454955" stroke="#454955" stroke-width="0.15" textLength="96.5" lengthAdjust="spacing">1.18000</text>
<text x="1848.9" y="641.3" font-size="24" fill="#454955" stroke="#454955" stroke-width="0.15" textLength="96.5" lengthAdjust="spacing">1.17500</text>
<text x="1848.9" y="712.9" font-size="24" fill="#454955" stroke="#454955" stroke-width="0.15" textLength="96.5" lengthAdjust="spacing">1.17000</text>
<text x="1848.9" y="784.5" font-size="24" fill="#454955" stroke="#454955" stroke-width="0.15" textLength="96.5" lengthAdjust="spacing">1.16500</text>
<text x="1848.9" y="856.1" font-size="24" fill="#454955" stroke="#454955" stroke-width="0.15" textLength="96.5" lengthAdjust="spacing">1.16000</text>
<text x="1848.9" y="927.7" font-size="24" fill="#454955" stroke="#454955" stroke-width="0.15" textLength="96.5" lengthAdjust="spacing">1.15500</text>
<text x="1848.9" y="999.2" font-size="24" fill="#454955" stroke="#454955" stroke-width="0.15" textLength="96.5" lengthAdjust="spacing">1.15000</text>
<text x="1848.9" y="1070.8" font-size="24" fill="#454955" stroke="#454955" stroke-width="0.15" textLength="96.5" lengthAdjust="spacing">1.14500</text>
<path d="M1832,263.1 H1951.9 a4,4 0 0 1 4,4 V292.8 a4,4 0 0 1 -4,4 H1832 Z" fill="#f23645"/>
<text x="1849.0" y="287.9" font-size="24" fill="#fff" stroke="#fff" stroke-width="0.15" textLength="96.4" lengthAdjust="spacing">1.19966</text>
<path d="M1832,325.1 H1951.9 a4,4 0 0 1 4,4 V354.9 a4,4 0 0 1 -4,4 H1832 Z" fill="#f23645"/>
<text x="1849.0" y="350.0" font-size="24" fill="#fff" stroke="#fff" stroke-width="0.15" textLength="96.0" lengthAdjust="spacing">1.19534</text>
<path d="M1832,447.0 H1960.1 a4,4 0 0 1 4,4 V504.8 a4,4 0 0 1 -4,4 H1832 Z" fill="#26a69a"/>
<text x="1849.0" y="472.0" font-size="24" fill="#fff" stroke="#fff" stroke-width="0.15" textLength="96.3" lengthAdjust="spacing">1.18680</text>
<text x="1848.7" y="499.8" font-size="24" fill="#fff" stroke="#fff" stroke-width="0.15" textLength="103.4" lengthAdjust="spacing" fill-opacity="0.8">02:29:30</text>
<path d="M1832,509.2 H1951.9 a4,4 0 0 1 4,4 V538.7 a4,4 0 0 1 -4,4 H1832 Z" fill="#a5d6a7"/>
<text x="1849.0" y="533.9" font-size="24" fill="#000" stroke="#000" stroke-width="0.15" textLength="96.4" lengthAdjust="spacing">1.18386</text>
<rect x="1838.5" y="62.2" width="135.2" height="51.5" rx="7.5" fill="#fff" stroke="#f0f1f3" stroke-width="2"/>
<text x="1855.4" y="95.9" font-size="24.5" fill="#0c0c0e" stroke="#0c0c0e" stroke-width="0.15" textLength="50.8" lengthAdjust="spacing">USD</text>
<text x="1848.1" y="1160.7" font-size="24" fill="#454955" stroke="#454955" stroke-width="0.15" textLength="66.9" lengthAdjust="spacing">75.00</text>
<text x="1848.3" y="1222.0" font-size="24" fill="#454955" stroke="#454955" stroke-width="0.15" textLength="66.6" lengthAdjust="spacing">50.00</text>
<text x="1848.1" y="1284.0" font-size="24" fill="#454955" stroke="#454955" stroke-width="0.15" textLength="66.8" lengthAdjust="spacing">25.00</text>
<text x="1848.5" y="1337.7" font-size="24" fill="#454955" stroke="#454955" stroke-width="0.15" textLength="97.0" lengthAdjust="spacing">0.00500</text>
<text x="1848.5" y="1406.7" font-size="24" fill="#454955" stroke="#454955" stroke-width="0.15" textLength="97.0" lengthAdjust="spacing">0.00000</text>
<g clip-path="url(#cpm)">
<text x="1848.2" y="1475.3" font-size="24" fill="#454955" stroke="#454955" stroke-width="0.15" textLength="112.1" lengthAdjust="spacing">−0.00500</text>
</g>
<text x="74.2" y="1512.0" font-size="24" fill="#454955" stroke="#454955" stroke-width="0.15" textLength="29.3" lengthAdjust="spacing">11</text>
<text x="262.2" y="1512.0" font-size="24" fill="#454955" stroke="#454955" stroke-width="0.15" textLength="28.8" lengthAdjust="spacing">14</text>
<text x="435.2" y="1512.0" font-size="24" fill="#454955" stroke="#454955" stroke-width="0.15" textLength="29.2" lengthAdjust="spacing">16</text>
<text x="608.8" y="1512.0" font-size="24" fill="#454955" stroke="#454955" stroke-width="0.15" textLength="28.4" lengthAdjust="spacing">20</text>
<text x="782.8" y="1512.0" font-size="24" fill="#454955" stroke="#454955" stroke-width="0.15" textLength="28.7" lengthAdjust="spacing">22</text>
<text x="941.8" y="1512.0" font-size="24" fill="#454955" stroke="#454955" stroke-width="0.15" textLength="28.5" lengthAdjust="spacing">25</text>
<text x="1128.8" y="1512.0" font-size="24" fill="#454955" stroke="#454955" stroke-width="0.15" textLength="28.5" lengthAdjust="spacing">28</text>
<text x="1365.9" y="1512.0" font-size="24" fill="#454955" font-weight="bold" textLength="45.6" lengthAdjust="spacing">Feb</text>
<text x="1577.0" y="1512.0" font-size="24" fill="#454955" text-anchor="middle" stroke="#454955" stroke-width="0.15">4</text>
<text x="1750.0" y="1512.0" font-size="24" fill="#454955" text-anchor="middle" stroke="#454955" stroke-width="0.15">6</text>
<g fill="#0f0f0f"><path d="M24.1,1574.2 H47.9 V1603.7 H36.1 V1585.7 H24.1 Z"/><circle cx="58" cy="1579.9" r="6"/><path d="M70.3,1574.2 H83.7 L71.9,1603.7 H58.3 Z"/></g>
<text x="96.2 120.8 133.1 157.0 182.5 193.7 217.4 241.0 270.8 281.8 305.9" y="1603.7" font-size="43" font-weight="bold" fill="#0f0f0f">TradingView</text>
</svg>
</body></html>
